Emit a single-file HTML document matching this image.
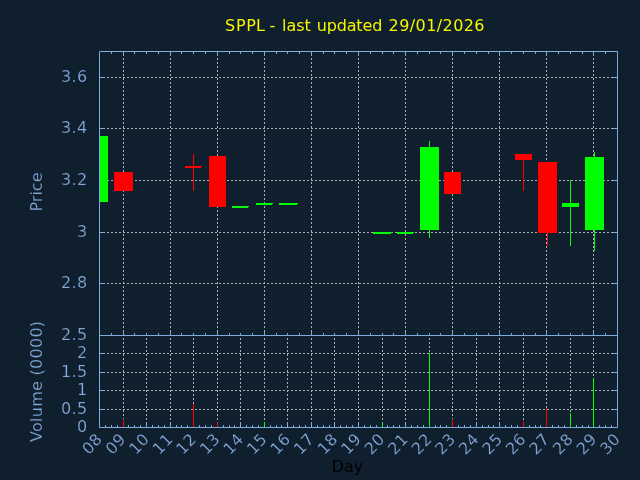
<!DOCTYPE html>
<html><head><meta charset="utf-8"><title>SPPL</title>
<style>
html,body{margin:0;padding:0;background:#101f2e;overflow:hidden}
svg{display:block}
text{font-family:"DejaVu Sans","Liberation Sans",sans-serif;font-size:16px;stroke:#101f2e;stroke-width:0.2px;paint-order:fill stroke}
.g{stroke:#b0b1b2;stroke-width:1;stroke-dasharray:2 2;fill:none}
.s{stroke:#7eaadc;stroke-width:1;fill:none}
.t{fill:#84aadb}
</style></head><body>
<svg width="640" height="480" viewBox="0 0 640 480">
<rect width="640" height="480" fill="#101f2e"/>
<path class="g" d="M99 77.5H617.5"/>
<path class="g" d="M99 128.5H617.5"/>
<path class="g" d="M99 180.5H617.5"/>
<path class="g" d="M99 232.5H617.5"/>
<path class="g" d="M99 283.5H617.5"/>
<path class="g" d="M123.5 336V51.5"/>
<path class="g" d="M170.5 336V51.5"/>
<path class="g" d="M217.5 336V51.5"/>
<path class="g" d="M264.5 336V51.5"/>
<path class="g" d="M311.5 336V51.5"/>
<path class="g" d="M358.5 336V51.5"/>
<path class="g" d="M405.5 336V51.5"/>
<path class="g" d="M452.5 336V51.5"/>
<path class="g" d="M499.5 336V51.5"/>
<path class="g" d="M546.5 336V51.5"/>
<path class="g" d="M593.5 336V51.5"/>
<path class="g" d="M99 353.5H617.5"/>
<path class="g" d="M99 372.5H617.5"/>
<path class="g" d="M99 390.5H617.5"/>
<path class="g" d="M99 409.5H617.5"/>
<path class="g" d="M123.5 428V335.5"/>
<path class="g" d="M146.5 428V335.5"/>
<path class="g" d="M170.5 428V335.5"/>
<path class="g" d="M193.5 428V335.5"/>
<path class="g" d="M217.5 428V335.5"/>
<path class="g" d="M240.5 428V335.5"/>
<path class="g" d="M264.5 428V335.5"/>
<path class="g" d="M287.5 428V335.5"/>
<path class="g" d="M311.5 428V335.5"/>
<path class="g" d="M334.5 428V335.5"/>
<path class="g" d="M358.5 428V335.5"/>
<path class="g" d="M382.5 428V335.5"/>
<path class="g" d="M405.5 428V335.5"/>
<path class="g" d="M429.5 428V335.5"/>
<path class="g" d="M452.5 428V335.5"/>
<path class="g" d="M476.5 428V335.5"/>
<path class="g" d="M499.5 428V335.5"/>
<path class="g" d="M523.5 428V335.5"/>
<path class="g" d="M546.5 428V335.5"/>
<path class="g" d="M570.5 428V335.5"/>
<path class="g" d="M593.5 428V335.5"/>
<path class="s" d="M111.5 51.0v3M111.5 336.0v-3M123.5 51.0v5.0M123.5 336.0v-5.5M134.5 51.0v3M134.5 336.0v-3M146.5 51.0v3M146.5 336.0v-3M158.5 51.0v3M158.5 336.0v-3M170.5 51.0v5.0M170.5 336.0v-5.5M181.5 51.0v3M181.5 336.0v-3M193.5 51.0v3M193.5 336.0v-3M205.5 51.0v3M205.5 336.0v-3M217.5 51.0v5.0M217.5 336.0v-5.5M229.5 51.0v3M229.5 336.0v-3M240.5 51.0v3M240.5 336.0v-3M252.5 51.0v3M252.5 336.0v-3M264.5 51.0v5.0M264.5 336.0v-5.5M276.5 51.0v3M276.5 336.0v-3M287.5 51.0v3M287.5 336.0v-3M299.5 51.0v3M299.5 336.0v-3M311.5 51.0v5.0M311.5 336.0v-5.5M323.5 51.0v3M323.5 336.0v-3M334.5 51.0v3M334.5 336.0v-3M346.5 51.0v3M346.5 336.0v-3M358.5 51.0v5.0M358.5 336.0v-5.5M370.5 51.0v3M370.5 336.0v-3M382.5 51.0v3M382.5 336.0v-3M393.5 51.0v3M393.5 336.0v-3M405.5 51.0v5.0M405.5 336.0v-5.5M417.5 51.0v3M417.5 336.0v-3M429.5 51.0v3M429.5 336.0v-3M440.5 51.0v3M440.5 336.0v-3M452.5 51.0v5.0M452.5 336.0v-5.5M464.5 51.0v3M464.5 336.0v-3M476.5 51.0v3M476.5 336.0v-3M488.5 51.0v3M488.5 336.0v-3M499.5 51.0v5.0M499.5 336.0v-5.5M511.5 51.0v3M511.5 336.0v-3M523.5 51.0v3M523.5 336.0v-3M535.5 51.0v3M535.5 336.0v-3M546.5 51.0v5.0M546.5 336.0v-5.5M558.5 51.0v3M558.5 336.0v-3M570.5 51.0v3M570.5 336.0v-3M582.5 51.0v3M582.5 336.0v-3M593.5 51.0v5.0M593.5 336.0v-5.5M605.5 51.0v3M605.5 336.0v-3M105.5 428.0v-3M111.5 428.0v-3M117.5 428.0v-3M123.5 428.0v-5.5M128.5 428.0v-3M134.5 428.0v-3M140.5 428.0v-3M146.5 428.0v-5.5M152.5 428.0v-3M158.5 428.0v-3M164.5 428.0v-3M170.5 428.0v-5.5M176.5 428.0v-3M181.5 428.0v-3M187.5 428.0v-3M193.5 428.0v-5.5M199.5 428.0v-3M205.5 428.0v-3M211.5 428.0v-3M217.5 428.0v-5.5M223.5 428.0v-3M229.5 428.0v-3M234.5 428.0v-3M240.5 428.0v-5.5M246.5 428.0v-3M252.5 428.0v-3M258.5 428.0v-3M264.5 428.0v-5.5M270.5 428.0v-3M276.5 428.0v-3M281.5 428.0v-3M287.5 428.0v-5.5M293.5 428.0v-3M299.5 428.0v-3M305.5 428.0v-3M311.5 428.0v-5.5M317.5 428.0v-3M323.5 428.0v-3M329.5 428.0v-3M334.5 428.0v-5.5M340.5 428.0v-3M346.5 428.0v-3M352.5 428.0v-3M358.5 428.0v-5.5M364.5 428.0v-3M370.5 428.0v-3M376.5 428.0v-3M382.5 428.0v-5.5M387.5 428.0v-3M393.5 428.0v-3M399.5 428.0v-3M405.5 428.0v-5.5M411.5 428.0v-3M417.5 428.0v-3M423.5 428.0v-3M429.5 428.0v-5.5M435.5 428.0v-3M440.5 428.0v-3M446.5 428.0v-3M452.5 428.0v-5.5M458.5 428.0v-3M464.5 428.0v-3M470.5 428.0v-3M476.5 428.0v-5.5M482.5 428.0v-3M488.5 428.0v-3M493.5 428.0v-3M499.5 428.0v-5.5M505.5 428.0v-3M511.5 428.0v-3M517.5 428.0v-3M523.5 428.0v-5.5M529.5 428.0v-3M535.5 428.0v-3M540.5 428.0v-3M546.5 428.0v-5.5M552.5 428.0v-3M558.5 428.0v-3M564.5 428.0v-3M570.5 428.0v-5.5M576.5 428.0v-3M582.5 428.0v-3M588.5 428.0v-3M593.5 428.0v-5.5M599.5 428.0v-3M605.5 428.0v-3M611.5 428.0v-3M99.0 77.5h5M618.0 77.5h-5M99.0 128.5h5M618.0 128.5h-5M99.0 180.5h5M618.0 180.5h-5M99.0 232.5h5M618.0 232.5h-5M99.0 283.5h5M618.0 283.5h-5M99.0 353.5h5M618.0 353.5h-5M99.0 372.5h5M618.0 372.5h-5M99.0 390.5h5M618.0 390.5h-5M99.0 409.5h5M618.0 409.5h-5"/>
<path class="s" d="M99.5 51.5H617.5V427.5H99.5Z M99.5 335.5H617.5"/>
<rect x="100" y="136" width="8" height="66" fill="#00ff00"/>
<rect x="114" y="172" width="19" height="19" fill="#ff0000"/>
<path d="M193.5 154V191" stroke="#ff0000" stroke-width="1"/>
<path d="M185 166H202V167H201V168H185Z" fill="#ff0000"/>
<rect x="209" y="156" width="17" height="51" fill="#ff0000"/>
<path d="M232 206H249V207H248V208H232Z" fill="#00ff00"/>
<path d="M256 203H273V204H272V205H256Z" fill="#00ff00"/>
<path d="M279 203H298V204H297V205H279Z" fill="#00ff00"/>
<path d="M373 232H392V233H391V234H373Z" fill="#00ff00"/>
<path d="M397 232H414V233H413V234H397Z" fill="#00ff00"/>
<path d="M429.5 141V238" stroke="#00ff00" stroke-width="1"/>
<rect x="420" y="147" width="19" height="83" fill="#00ff00"/>
<rect x="444" y="172" width="17" height="22" fill="#ff0000"/>
<path d="M523.5 154V191" stroke="#ff0000" stroke-width="1"/>
<rect x="515" y="154" width="17" height="6" fill="#ff0000"/>
<path d="M547.5 162V246" stroke="#ff0000" stroke-width="1"/>
<rect x="538" y="162" width="19" height="71" fill="#ff0000"/>
<path d="M570.5 180V246" stroke="#00ff00" stroke-width="1"/>
<rect x="562" y="203" width="17" height="4" fill="#00ff00"/>
<path d="M594.5 152V251" stroke="#00ff00" stroke-width="1"/>
<rect x="585" y="157" width="19" height="73" fill="#00ff00"/>
<path d="M123.5 427V419" stroke="#ff0000" stroke-width="1"/>
<path d="M193.5 427V404" stroke="#ff0000" stroke-width="1"/>
<path d="M217.5 427V422.5" stroke="#ff0000" stroke-width="1"/>
<path d="M264.5 427V422" stroke="#00ff00" stroke-width="1"/>
<path d="M382.5 427V423" stroke="#00ff00" stroke-width="1"/>
<path d="M429.5 427V353" stroke="#00ff00" stroke-width="1"/>
<path d="M452.5 427V419" stroke="#ff0000" stroke-width="1"/>
<path d="M523.5 427V421" stroke="#ff0000" stroke-width="1"/>
<path d="M546.5 427V408" stroke="#ff0000" stroke-width="1"/>
<path d="M570.5 427V413" stroke="#00ff00" stroke-width="1"/>
<path d="M593.5 427V378" stroke="#00ff00" stroke-width="1"/>
<text class="t" x="61.02" y="82.0" textLength="26.18" lengthAdjust="spacing">3.6</text>
<text class="t" x="61.02" y="133.0" textLength="26.18" lengthAdjust="spacing">3.4</text>
<text class="t" x="61.02" y="185.0" textLength="26.18" lengthAdjust="spacing">3.2</text>
<text class="t" x="87.2" y="237.0" text-anchor="end">3</text>
<text class="t" x="61.02" y="288.0" textLength="26.18" lengthAdjust="spacing">2.8</text>
<text class="t" x="61.02" y="340.0" textLength="26.18" lengthAdjust="spacing">2.5</text>
<text class="t" x="87.2" y="358.0" text-anchor="end">2</text>
<text class="t" x="61.02" y="377.0" textLength="26.18" lengthAdjust="spacing">1.5</text>
<text class="t" x="87.2" y="395.0" text-anchor="end">1</text>
<text class="t" x="61.02" y="414.0" textLength="26.18" lengthAdjust="spacing">0.5</text>
<text class="t" x="87.2" y="432.0" text-anchor="end">0</text>
<text class="t" x="88.70 95.75" y="455.6 447.5" rotate="-45">08</text>
<text class="t" x="112.25 119.30" y="455.6 447.5" rotate="-45">09</text>
<text class="t" x="135.79 142.84" y="455.6 447.5" rotate="-45">10</text>
<text class="t" x="159.34 166.39" y="455.6 447.5" rotate="-45">11</text>
<text class="t" x="182.88 189.93" y="455.6 447.5" rotate="-45">12</text>
<text class="t" x="206.43 213.48" y="455.6 447.5" rotate="-45">13</text>
<text class="t" x="229.97 237.02" y="455.6 447.5" rotate="-45">14</text>
<text class="t" x="253.52 260.57" y="455.6 447.5" rotate="-45">15</text>
<text class="t" x="277.06 284.11" y="455.6 447.5" rotate="-45">16</text>
<text class="t" x="300.61 307.66" y="455.6 447.5" rotate="-45">17</text>
<text class="t" x="324.15 331.20" y="455.6 447.5" rotate="-45">18</text>
<text class="t" x="347.70 354.75" y="455.6 447.5" rotate="-45">19</text>
<text class="t" x="371.25 378.30" y="455.6 447.5" rotate="-45">20</text>
<text class="t" x="394.79 401.84" y="455.6 447.5" rotate="-45">21</text>
<text class="t" x="418.34 425.39" y="455.6 447.5" rotate="-45">22</text>
<text class="t" x="441.88 448.93" y="455.6 447.5" rotate="-45">23</text>
<text class="t" x="465.43 472.48" y="455.6 447.5" rotate="-45">24</text>
<text class="t" x="488.97 496.02" y="455.6 447.5" rotate="-45">25</text>
<text class="t" x="512.52 519.57" y="455.6 447.5" rotate="-45">26</text>
<text class="t" x="536.06 543.11" y="455.6 447.5" rotate="-45">27</text>
<text class="t" x="559.61 566.66" y="455.6 447.5" rotate="-45">28</text>
<text class="t" x="583.15 590.20" y="455.6 447.5" rotate="-45">29</text>
<text class="t" x="606.70 613.75" y="455.6 447.5" rotate="-45">30</text>
<text class="t" transform="translate(42.3 192) rotate(-90)" text-anchor="middle">Price</text>
<text class="t" transform="translate(42.3 442) rotate(-90)" textLength="121.1" lengthAdjust="spacing">Volume (0000)</text>
<text x="347.5" y="471.5" text-anchor="middle" fill="#000000" style="stroke:none">Day</text>
<text y="31" fill="#f6f600" style="stroke:none"><tspan x="225.1 235.9 246.2 255.9">SPPL</tspan> <tspan x="269.48">-</tspan> <tspan x="282.06" textLength="28.64" lengthAdjust="spacing">last</tspan> <tspan x="316.81" textLength="65.49" lengthAdjust="spacing">updated</tspan> <tspan x="388.57" textLength="95.94" lengthAdjust="spacing">29/01/2026</tspan></text>
</svg></body></html>
